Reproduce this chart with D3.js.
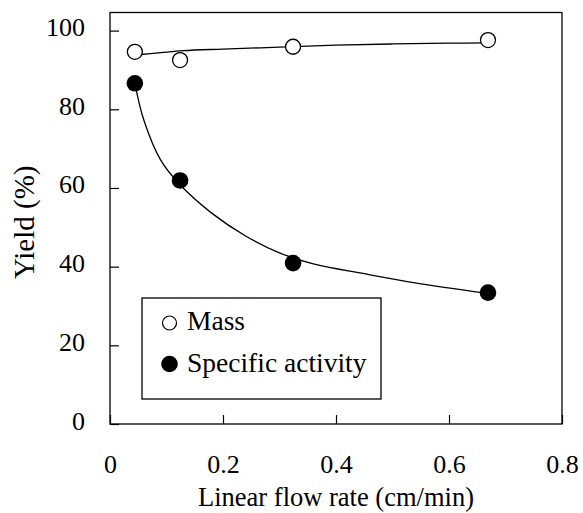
<!DOCTYPE html>
<html>
<head>
<meta charset="utf-8">
<script src="https://cdn.jsdelivr.net/npm/d3@7"></script>
<style>
  body { margin: 0; background: #fff; }
</style>
</head>
<body>
<svg id="chart" width="583" height="513"></svg>
<script>
// measured points
const flowRate = [0.044, 0.124, 0.324, 0.669];
const massYield = [94.6, 92.5, 95.9, 97.6];
const activityYield = [86.6, 61.9, 40.9, 33.4];

// fitted curves as drawn in the figure
const massFitX = [0.046, 0.09, 0.13, 0.2, 0.3, 0.4, 0.5, 0.6, 0.669];
const massFitY = [93.8, 94.4, 94.9, 95.3, 95.8, 96.3, 96.6, 96.8, 96.9];
const activityFitX = [0.044, 0.06, 0.09, 0.124, 0.18, 0.24, 0.3, 0.36, 0.45, 0.54, 0.669];
const activityFitY = [86.6, 77.2, 67.0, 60.8, 53.6, 47.8, 43.5, 40.7, 38.2, 35.9, 33.2];

const xTicks = [0, 0.2, 0.4, 0.6, 0.8];
const yTicks = [0, 20, 40, 60, 80, 100];

const FONT = "'Liberation Serif', 'Times New Roman', Times, 'DejaVu Serif', serif";

const svg = d3.select("#chart").attr("font-family", FONT);

// Layout
const plot = { left: 110, right: 562, top: 12.5, bottom: 424 };

const x = d3.scaleLinear().domain([0, 0.8]).range([plot.left, plot.right]);
const y = d3.scaleLinear().domain([0, 104.6]).range([plot.bottom, plot.top]);

// frame
svg.append("rect")
  .attr("x", plot.left)
  .attr("y", plot.top)
  .attr("width", plot.right - plot.left)
  .attr("height", plot.bottom - plot.top)
  .attr("fill", "none")
  .attr("stroke", "#000")
  .attr("stroke-width", 1.3);

// axes (inward ticks)
const xAxis = svg.append("g")
  .attr("transform", `translate(0,${plot.bottom})`)
  .call(d3.axisTop(x).tickValues(xTicks).tickSize(9).tickFormat(d => d === 0 ? "0" : d3.format(".1f")(d)));
xAxis.attr("font-family", FONT).attr("font-size", 26);
xAxis.select(".domain").remove();
xAxis.selectAll("line").attr("stroke", "#000").attr("stroke-width", 1.2);
xAxis.selectAll("text")
  .attr("y", 49)
  .attr("dy", 0)
  .attr("fill", "#000");

const yAxis = svg.append("g")
  .attr("transform", `translate(${plot.left},0)`)
  .call(d3.axisRight(y).tickValues(yTicks).tickSize(9));
yAxis.attr("font-family", FONT).attr("font-size", 26);
yAxis.select(".domain").remove();
yAxis.selectAll("line").attr("stroke", "#000").attr("stroke-width", 1.2);
yAxis.selectAll("text")
  .attr("x", -25)
  .attr("dy", 5)
  .attr("text-anchor", "end")
  .attr("fill", "#000");

// axis titles
svg.append("text")
  .attr("x", (plot.left + plot.right) / 2)
  .attr("y", 506)
  .attr("text-anchor", "middle")
  .attr("font-size", 26.5)
  .text("Linear flow rate (cm/min)");

svg.append("text")
  .attr("transform", `translate(34,${(plot.top + plot.bottom) / 2 + 4}) rotate(-90)`)
  .attr("text-anchor", "middle")
  .attr("font-size", 29)
  .text("Yield (%)");

// fit lines
const line = d3.line()
  .x(d => x(d[0]))
  .y(d => y(d[1]))
  .curve(d3.curveCatmullRom.alpha(0.5));

svg.append("path")
  .datum(d3.zip(massFitX, massFitY))
  .attr("d", line)
  .attr("fill", "none")
  .attr("stroke", "#000")
  .attr("stroke-width", 1.3);

svg.append("path")
  .datum(d3.zip(activityFitX, activityFitY))
  .attr("d", line)
  .attr("fill", "none")
  .attr("stroke", "#000")
  .attr("stroke-width", 1.3);

// markers
svg.append("g")
  .selectAll("circle")
  .data(d3.zip(flowRate, massYield))
  .join("circle")
  .attr("cx", d => x(d[0]))
  .attr("cy", d => y(d[1]))
  .attr("r", 7.5)
  .attr("fill", "#fff")
  .attr("stroke", "#000")
  .attr("stroke-width", 1.3);

svg.append("g")
  .selectAll("circle")
  .data(d3.zip(flowRate, activityYield))
  .join("circle")
  .attr("cx", d => x(d[0]))
  .attr("cy", d => y(d[1]))
  .attr("r", 8.3)
  .attr("fill", "#000");

// legend
const legend = svg.append("g");
legend.append("rect")
  .attr("x", 142)
  .attr("y", 298)
  .attr("width", 239)
  .attr("height", 101)
  .attr("fill", "#fff")
  .attr("stroke", "#000")
  .attr("stroke-width", 1.3);

legend.append("circle")
  .attr("cx", 169.5).attr("cy", 323).attr("r", 7)
  .attr("fill", "#fff").attr("stroke", "#000").attr("stroke-width", 1.2);
legend.append("circle")
  .attr("cx", 169.5).attr("cy", 364).attr("r", 8.3)
  .attr("fill", "#000");

legend.append("text")
  .attr("x", 187).attr("y", 330)
  .attr("font-size", 27.5)
  .text("Mass");
legend.append("text")
  .attr("x", 187).attr("y", 372)
  .attr("font-size", 27.5)
  .text("Specific activity");
</script>
</body>
</html>
